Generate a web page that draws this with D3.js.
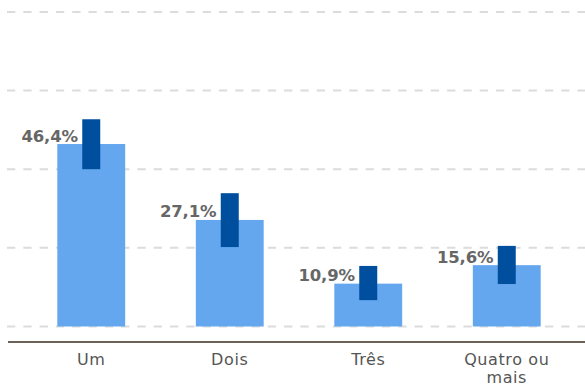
<!DOCTYPE html>
<html>
<head>
<meta charset="utf-8">
<script src="https://cdn.jsdelivr.net/npm/d3@7"></script>
<style>
  html, body { margin: 0; padding: 0; background: #fff; }
  svg { display: block; }
</style>
</head>
<body>
<div id="chart"></div>
<script>
// Number of people in the household: share and interval
const categories = ["Um", "Dois", "Três", "Quatro ou mais"];
const categoryLines = [["Um"], ["Dois"], ["Três"], ["Quatro ou", "mais"]];
const shares = [46.4, 27.1, 10.9, 15.6];
const rangeLow = [40.0, 20.2, 6.7, 10.8];
const rangeHigh = [52.7, 33.9, 15.4, 20.5];
const gridTicks = [0, 20, 40, 60, 80];

const width = 585, height = 386;

const svg = d3.select("#chart").append("svg")
  .attr("width", width)
  .attr("height", height);

const x = d3.scaleBand()
  .domain(categories)
  .range([22, 576])
  .paddingInner(0.51)
  .paddingOuter(0.255);

const y = d3.scaleLinear()
  .domain([0, 80])
  .range([326.5, 11.9]);

// dashed horizontal gridlines
svg.append("g")
  .selectAll("line")
  .data(gridTicks)
  .join("line")
  .attr("x1", 7)
  .attr("x2", width)
  .attr("y1", d => y(d))
  .attr("y2", d => y(d))
  .attr("stroke", "#dcdcdc")
  .attr("stroke-width", 2)
  .attr("stroke-dasharray", "8.3,8");

// main bars
svg.append("g")
  .selectAll("rect")
  .data(categories)
  .join("rect")
  .attr("x", d => x(d))
  .attr("width", x.bandwidth())
  .attr("y", (d, i) => y(shares[i]))
  .attr("height", (d, i) => y(0) - y(shares[i]))
  .attr("fill", "#64a7ee");

// interval bars
const rangeWidth = 18;
svg.append("g")
  .selectAll("rect")
  .data(categories)
  .join("rect")
  .attr("x", d => x(d) + x.bandwidth() / 2 - rangeWidth / 2)
  .attr("width", rangeWidth)
  .attr("y", (d, i) => y(rangeHigh[i]))
  .attr("height", (d, i) => y(rangeLow[i]) - y(rangeHigh[i]))
  .attr("fill", "#004f9f");

// value labels
svg.append("g")
  .selectAll("text")
  .data(categories)
  .join("text")
  .attr("x", d => x(d) + x.bandwidth() / 2 - rangeWidth / 2 - 4.5)
  .attr("y", (d, i) => y(shares[i]) - 2.5)
  .attr("text-anchor", "end")
  .attr("font-family", "DejaVu Sans")
  .attr("font-weight", "bold")
  .attr("font-size", 16.5)
  .attr("letter-spacing", -0.2)
  .attr("fill", "#666")
  .text((d, i) => shares[i].toFixed(1).replace(".", ",") + "%");

// baseline axis
const xAxis = d3.axisBottom(x).tickSize(0).tickFormat("");
const axisG = svg.append("g")
  .attr("transform", "translate(0,342)")
  .call(xAxis);
axisG.select(".domain")
  .attr("d", `M8,0H${width}`)
  .attr("stroke", "#6b6358")
  .attr("stroke-width", 2.2);

// category labels
const labels = svg.append("g")
  .selectAll("text")
  .data(categories)
  .join("text")
  .attr("x", d => x(d) + x.bandwidth() / 2)
  .attr("y", 365)
  .attr("text-anchor", "middle")
  .attr("font-family", "DejaVu Sans")
  .attr("font-size", 16)
  .attr("letter-spacing", 0.6)
  .attr("fill", "#555");
labels.selectAll("tspan")
  .data((d, i) => categoryLines[i])
  .join("tspan")
  .attr("x", function () { return d3.select(this.parentNode).attr("x"); })
  .attr("dy", (d, j) => j === 0 ? 0 : 17.5)
  .text(d => d);
</script>
</body>
</html>
